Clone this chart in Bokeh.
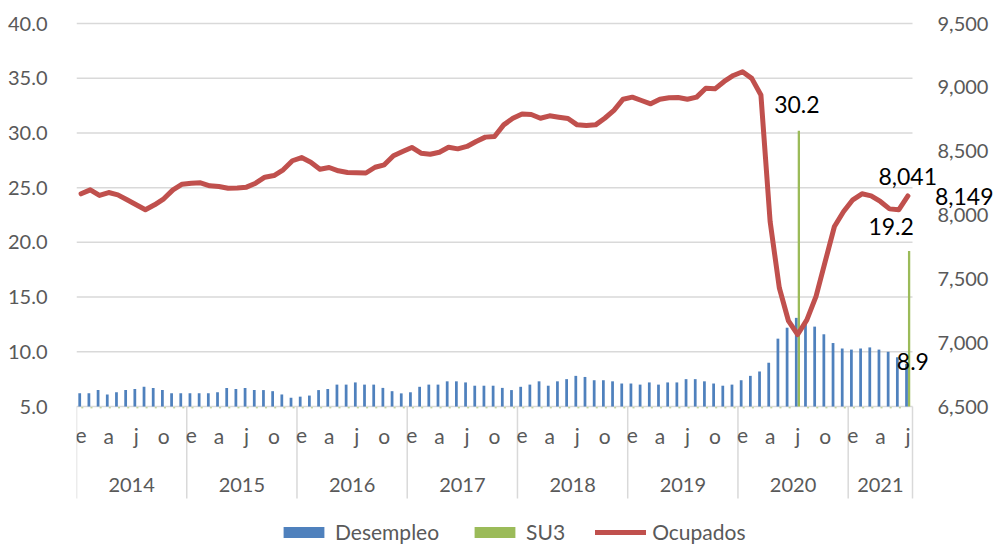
from bokeh.plotting import figure
from bokeh.models import (Range1d, FixedTicker, NumeralTickFormatter,
                          Legend, LegendItem, ColumnDataSource, Label)
from bokeh.embed import file_html
from bokeh.resources import INLINE
from bokeh.core.properties import value

# ---------------- data ----------------
years = ["2014", "2015", "2016", "2017", "2018", "2019", "2020", "2021"]
months_per_year = [12, 12, 12, 12, 12, 12, 12, 7]
month_tick_pos = [0, 3, 6, 9]            # months shown on the axis (0 = enero)
month_tick_labels = ["e", "a", "j", "o"]

desempleo = [
    6.2, 6.2, 6.5, 6.1, 6.3, 6.5, 6.6, 6.8, 6.7, 6.5, 6.2, 6.2,   # 2014
    6.2, 6.2, 6.2, 6.3, 6.7, 6.6, 6.7, 6.5, 6.5, 6.4, 6.1, 5.8,   # 2015
    5.9, 6.0, 6.5, 6.6, 7.0, 7.0, 7.2, 7.0, 7.0, 6.7, 6.4, 6.2,   # 2016
    6.3, 6.8, 7.0, 7.0, 7.3, 7.3, 7.2, 6.9, 6.9, 6.9, 6.7, 6.5,   # 2017
    6.8, 7.0, 7.3, 6.9, 7.3, 7.5, 7.8, 7.7, 7.4, 7.4, 7.3, 7.1,   # 2018
    7.1, 7.0, 7.2, 7.0, 7.2, 7.2, 7.5, 7.5, 7.3, 7.1, 6.9, 7.0,   # 2019
    7.4, 7.8, 8.2, 9.0, 11.2, 12.2, 13.1, 12.9, 12.3, 11.6, 10.8, 10.3,  # 2020
    10.2, 10.3, 10.4, 10.2, 10.0, 9.5, 8.9,                      # 2021
]

ocupados = [
    8166, 8197, 8153, 8176, 8158, 8119, 8080, 8041, 8080, 8127, 8197, 8241,   # 2014
    8249, 8252, 8229, 8223, 8210, 8212, 8218, 8249, 8296, 8309, 8354, 8425,   # 2015
    8450, 8414, 8359, 8372, 8346, 8333, 8331, 8329, 8374, 8393, 8464, 8497,   # 2016
    8529, 8484, 8476, 8492, 8531, 8518, 8537, 8576, 8610, 8615, 8706, 8758,   # 2017
    8792, 8787, 8758, 8777, 8766, 8756, 8706, 8701, 8706, 8758, 8819, 8907,   # 2018
    8923, 8897, 8871, 8907, 8918, 8920, 8907, 8923, 8993, 8988, 9046, 9093,   # 2019
    9122, 9070, 8940, 7950, 7430, 7170, 7064, 7179, 7362, 7636, 7910, 8027,   # 2020
    8119, 8166, 8150, 8106, 8048, 8041, 8149,                                 # 2021
]

su3_periods = [("2020", 7), ("2021", 7)]   # (year, month)
su3_values = [30.2, 19.2]

left_ticks = [5.0, 10.0, 15.0, 20.0, 25.0, 30.0, 35.0, 40.0]
right_ticks = [6500, 7000, 7500, 8000, 8500, 9000, 9500]

# ---------------- derived positions ----------------
idx = []
year_start = []
k = 0
for y, n in zip(years, months_per_year):
    year_start.append(k)
    for m in range(n):
        idx.append(k)
        k += 1
N = len(idx)
su3_idx = [year_start[years.index(y)] + m - 1 for (y, m) in su3_periods]
su3_missing = [i for i in idx if i not in su3_idx]

# ---------------- layout ----------------
W, H = 998, 544
LEFT = 76             # left edge of the category area
CAT_W = 836           # width of the category area in px
TOP_PX = 23           # pixel row of the top gridline
BOT_PX = 406          # pixel row of the baseline
PX_PER_MONTH = CAT_W / N
PX_PER_LEFT = (BOT_PX - TOP_PX) / (left_ticks[-1] - left_ticks[0])
PX_PER_RIGHT = (BOT_PX - TOP_PX) / (right_ticks[-1] - right_ticks[0])
x_end = -0.5 + (W - LEFT) / PX_PER_MONTH
yl_end = left_ticks[-1] + TOP_PX / PX_PER_LEFT
yl_start = left_ticks[0] - (H - BOT_PX) / PX_PER_LEFT
yr_end = right_ticks[-1] + TOP_PX / PX_PER_RIGHT
yr_start = right_ticks[0] - (H - BOT_PX) / PX_PER_RIGHT
BASE = left_ticks[0]

def below(px):
    """left-axis value that lies px pixels below the category baseline"""
    return BASE - px / PX_PER_LEFT

FONT = "Lato"
GRAY = "#595959"
GRID = "#d9d9d9"
BLUE = "#4f81bd"
GREEN = "#9bbb59"
RED = "#c0504d"
TICK_SIZE = "20px"

p = figure(width=W, height=H, output_backend="svg", toolbar_location=None,
           x_range=Range1d(-0.5, x_end), y_range=Range1d(yl_start, yl_end),
           x_axis_location=None, min_border_left=LEFT, min_border_right=0,
           min_border_top=0, min_border_bottom=0, outline_line_color=None,
           background_fill_color="white", border_fill_color="white")
p.extra_y_ranges = {"ocup": Range1d(yr_start, yr_end)}

# left axis
ya = p.yaxis[0]
ya.ticker = FixedTicker(ticks=left_ticks)
ya.formatter = NumeralTickFormatter(format="0.0")
ya.axis_line_color = None
ya.major_tick_line_color = None
ya.minor_tick_line_color = None
ya.major_label_standoff = 23
ya.major_label_text_font = FONT
ya.major_label_text_font_size = TICK_SIZE
ya.major_label_text_color = GRAY
p.ygrid.visible = False
p.xgrid.visible = False

# gridlines over the category area only
p.segment(x0=-0.5, x1=N - 0.5, y0=left_ticks, y1=left_ticks,
          line_color=GRID, line_width=1.5, level="underlay")

# right-hand value labels (secondary scale)
p.text(x=N - 0.5 + 25 / PX_PER_MONTH, y=right_ticks, y_range_name="ocup",
       text=[f"{t:,}" for t in right_ticks], text_align="left", text_baseline="middle",
       text_font=value(FONT), text_font_size=TICK_SIZE, text_color=GRAY)

# ---------------- marks ----------------
src = ColumnDataSource(dict(x=[i - 0.15 for i in idx], top=desempleo))
bars = p.vbar(x="x", top="top", bottom=BASE, width=0.3, source=src,
              fill_color=BLUE, line_color=None)

su3_src = ColumnDataSource(dict(x=[i + 0.13 for i in su3_idx], top=su3_values))
su3 = p.vbar(x="x", top="top", bottom=BASE, width=0.25, source=su3_src,
             fill_color=GREEN, line_color=None)
# empty SU3 months show as tiny marks on the baseline
p.segment(x0=[i + 0.02 for i in su3_missing], x1=[i + 0.24 for i in su3_missing],
          y0=below(1.3), y1=below(1.3), line_color=GREEN, line_width=1, line_alpha=0.8)

line = p.line(x=idx, y=ocupados, y_range_name="ocup", line_color=RED,
              line_width=5, line_join="round", line_cap="round")

# category axis: separators, month labels, year labels
bounds = [s - 0.5 for s in year_start] + [N - 0.5]
p.segment(x0=bounds, x1=bounds, y0=BASE, y1=below(92), line_color=GRID, line_width=1.5)
mx, mt = [], []
for s, n in zip(year_start, months_per_year):
    for pos, lab in zip(month_tick_pos, month_tick_labels):
        if pos < n:
            mx.append(s + pos)
            mt.append(lab)
p.text(x=mx, y=below(29), text=mt, text_align="center", text_baseline="middle",
       text_font=value(FONT), text_font_size="21px", text_color=GRAY)
yx = [s + (n - 1) / 2 for s, n in zip(year_start, months_per_year)]
p.text(x=yx, y=below(78), text=years, text_align="center", text_baseline="middle",
       text_font=value(FONT), text_font_size="20px", text_color=GRAY)

# data labels
lab_kw = dict(text_font=FONT, text_font_size="23px", text_color="black")
p.add_layout(Label(x=su3_idx[0] + 0.13, y=su3_values[0], text=f"{su3_values[0]:.1f}",
                   text_align="center", text_baseline="alphabetic",
                   x_offset=-2, y_offset=26, **lab_kw))
p.add_layout(Label(x=su3_idx[1] + 0.13, y=su3_values[1], text=f"{su3_values[1]:.1f}",
                   text_align="center", text_baseline="alphabetic",
                   x_offset=-18, y_offset=25, **lab_kw))
p.add_layout(Label(x=idx[-1], y=desempleo[-1], text=f"{desempleo[-1]:.1f}",
                   text_align="center", text_baseline="middle",
                   x_offset=5, y_offset=2, **lab_kw))
p.add_layout(Label(x=idx[-2], y=ocupados[-2], y_range_name="ocup", text=f"{ocupados[-2]:,}",
                   text_align="center", text_baseline="alphabetic",
                   x_offset=9, y_offset=33, **lab_kw))
p.add_layout(Label(x=idx[-1], y=ocupados[-1], y_range_name="ocup", text=f"{ocupados[-1]:,}",
                   text_align="left", text_baseline="middle",
                   x_offset=27, y_offset=-1, **lab_kw))

# legend
legend = Legend(items=[LegendItem(label="Desempleo", renderers=[bars]),
                       LegendItem(label="SU3", renderers=[su3]),
                       LegendItem(label="Ocupados", renderers=[line])],
                orientation="horizontal", location=(202, 0),
                glyph_width=51, glyph_height=14, label_standoff=6, spacing=30,
                padding=0, margin=0, border_line_color=None, background_fill_alpha=0,
                label_text_font=FONT, label_text_font_size="21px", label_text_color=GRAY)
p.add_layout(legend, "center")

open("out.html", "w").write(file_html(p, INLINE))
